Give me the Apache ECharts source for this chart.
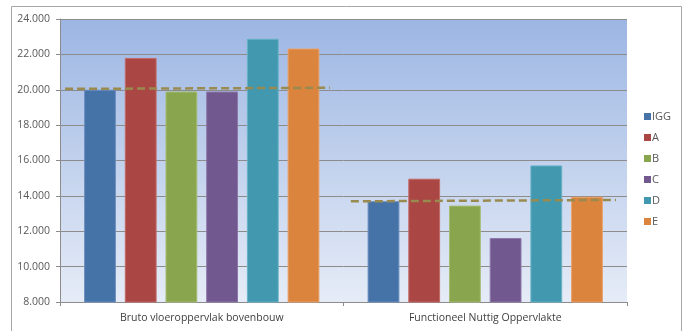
<!DOCTYPE html>
<html>
<head>
<meta charset="utf-8">
<style>
  html, body { margin: 0; padding: 0; background: #fff; }
  #chart { width: 684px; height: 331px; }
</style>
<script src="https://cdn.jsdelivr.net/npm/echarts@6/dist/echarts.min.js"></script>
</head>
<body>
<div id="chart"></div>
<script>
// Categories and series values (m²)
const categories = ['Bruto vloeroppervlak bovenbouw', 'Functioneel Nuttig Oppervlakte'];
const seriesNames = ['IGG', 'A', 'B', 'C', 'D', 'E'];
const valuesIGG = [20000, 13700];
const valuesA = [21800, 14970];
const valuesB = [19900, 13450];
const valuesC = [19900, 11620];
const valuesD = [22880, 15720];
const valuesE = [22330, 13950];
const seriesColors = ['#4572a7', '#aa4643', '#89a54e', '#71588f', '#4198af', '#db843d'];
const seriesBorders = ['#6a8fc0', '#c26a67', '#a5bd73', '#8d78a8', '#66b2c6', '#e9a06a'];

// Dashed reference lines per group: [x, value] pairs on a 0..2 value scale
const refLineBruto = [[0.018, 20050], [0.952, 20110]];
const refLineFNO = [[1.026, 13690], [1.961, 13770]];

// Y axis ticks
const yMin = 8000, yMax = 24000, yStep = 2000;

const allValues = [valuesIGG, valuesA, valuesB, valuesC, valuesD, valuesE];

const fmt = v => {
  const s = String(Math.round(v));
  return s.replace(/\B(?=(\d{3})+(?!\d))/g, '.');
};

const chart = echarts.init(document.getElementById('chart'), null, { renderer: 'canvas' });

const barSeries = seriesNames.map((name, i) => ({
  name,
  type: 'bar',
  data: allValues[i],
  barGap: '28%',
  barCategoryGap: '17%',
  itemStyle: { color: seriesColors[i], borderColor: seriesBorders[i], borderWidth: 1 },
  z: 2
}));

const lineStyle = { color: '#998a4f', width: 2.5, type: [8, 4] };
const refSeries = [refLineBruto, refLineFNO].map(d => ({
  type: 'line',
  xAxisIndex: 1,
  data: d,
  symbol: 'none',
  lineStyle,
  silent: true,
  z: 5
}));

chart.setOption({
  animation: false,
  textStyle: { fontFamily: 'Open Sans, Noto Sans, sans-serif' },
  graphic: [{
    type: 'rect',
    shape: { x: 11.5, y: 6.5, width: 670, height: 340 },
    style: { fill: 'none', stroke: '#a6a6a6', lineWidth: 1 },
    silent: true,
    z: -1
  }],
  grid: {
    left: 60, right: 57, top: 19, bottom: 29,
    show: true,
    borderWidth: 0,
    backgroundColor: new echarts.graphic.LinearGradient(0, 0, 0, 1, [
      { offset: 0, color: '#9cb6e3' },
      { offset: 1, color: '#e6ecf7' }
    ])
  },
  legend: {
    orient: 'vertical',
    left: 644,
    top: 111,
    itemWidth: 7,
    itemHeight: 7,
    itemGap: 10,
    icon: 'rect',
    padding: 0,
    data: seriesNames,
    itemStyle: { borderWidth: 0 },
    textStyle: { fontSize: 11, color: '#595959', padding: [0, 0, 0, -4] }
  },
  xAxis: [{
    type: 'category',
    data: categories,
    axisLine: { lineStyle: { color: '#8c8c8c' } },
    axisTick: { show: true, length: 4, lineStyle: { color: '#8c8c8c' } },
    axisLabel: { fontSize: 10.5, color: '#404040', margin: 11 }
  }, {
    type: 'value',
    min: 0, max: 2,
    show: false
  }],
  yAxis: {
    type: 'value',
    min: yMin, max: yMax, interval: yStep,
    axisLine: { show: true, lineStyle: { color: '#8c8c8c' } },
    axisTick: { show: true, length: 4, lineStyle: { color: '#8c8c8c' } },
    splitLine: { lineStyle: { color: '#8c8c8c', width: 1 } },
    axisLabel: { fontSize: 10.5, color: '#595959', margin: 10, formatter: fmt }
  },
  series: [...barSeries, ...refSeries]
});
</script>
</body>
</html>
